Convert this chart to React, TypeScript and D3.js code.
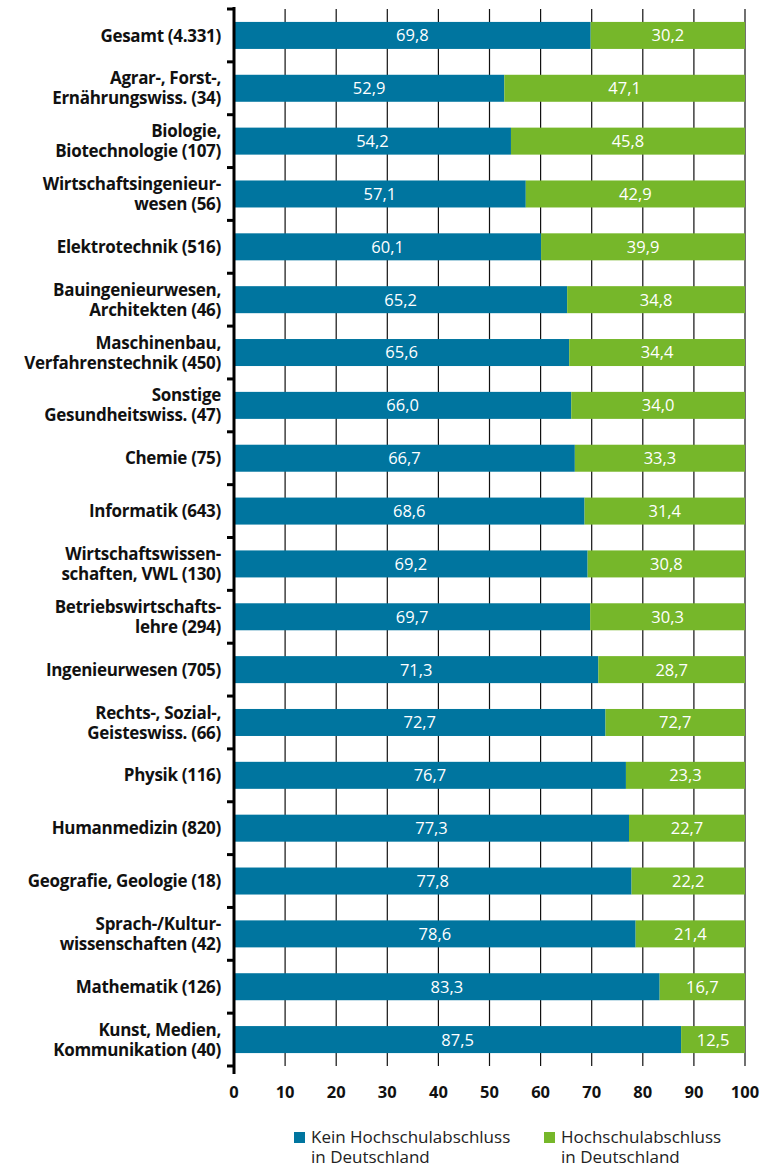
import React from "react";
import * as d3 from "d3";

const categories: string[][] = [
  ["Gesamt (4.331)"],
  ["Agrar-, Forst-,", "Ernährungswiss. (34)"],
  ["Biologie,", "Biotechnologie (107)"],
  ["Wirtschaftsingenieur-", "wesen (56)"],
  ["Elektrotechnik (516)"],
  ["Bauingenieurwesen,", "Architekten (46)"],
  ["Maschinenbau,", "Verfahrenstechnik (450)"],
  ["Sonstige", "Gesundheitswiss. (47)"],
  ["Chemie (75)"],
  ["Informatik (643)"],
  ["Wirtschaftswissen-", "schaften, VWL (130)"],
  ["Betriebswirtschafts-", "lehre (294)"],
  ["Ingenieurwesen (705)"],
  ["Rechts-, Sozial-,", "Geisteswiss. (66)"],
  ["Physik (116)"],
  ["Humanmedizin (820)"],
  ["Geografie, Geologie (18)"],
  ["Sprach-/Kultur-", "wissenschaften (42)"],
  ["Mathematik (126)"],
  ["Kunst, Medien,", "Kommunikation (40)"],
];

const keinValues = [69.8, 52.9, 54.2, 57.1, 60.1, 65.2, 65.6, 66.0, 66.7, 68.6, 69.2, 69.7, 71.3, 72.7, 76.7, 77.3, 77.8, 78.6, 83.3, 87.5];
const mitValues = [30.2, 47.1, 45.8, 42.9, 39.9, 34.8, 34.4, 34.0, 33.3, 31.4, 30.8, 30.3, 28.7, 27.3, 23.3, 22.7, 22.2, 21.4, 16.7, 12.5];
// labels as printed in the source (note the printed "72,7" in the green segment)
const keinLabels = ["69,8", "52,9", "54,2", "57,1", "60,1", "65,2", "65,6", "66,0", "66,7", "68,6", "69,2", "69,7", "71,3", "72,7", "76,7", "77,3", "77,8", "78,6", "83,3", "87,5"];
const mitLabels = ["30,2", "47,1", "45,8", "42,9", "39,9", "34,8", "34,4", "34,0", "33,3", "31,4", "30,8", "30,3", "28,7", "72,7", "23,3", "22,7", "22,2", "21,4", "16,7", "12,5"];
const xTicks = [0, 10, 20, 30, 40, 50, 60, 70, 80, 90, 100];
const legendItems = [
  { lines: ["Kein Hochschulabschluss", "in Deutschland"], color: "#00759f" },
  { lines: ["Hochschulabschluss", "in Deutschland"], color: "#76b72a" },
];

const BLUE = "#00759f";
const GREEN = "#76b72a";
const FONT = "'Open Sans', 'Noto Sans', sans-serif";

export default function App() {
  const W = 764, H = 1167;
  const left = 234, right = 745, top = 9, bottom = 1066;
  const x = d3.scaleLinear().domain([0, 100]).range([left, right]);
  const idx = categories.map((_, i) => String(i));
  const y = d3.scaleBand().domain(idx).range([top, bottom]).paddingInner(0.489).paddingOuter(0.2445);
  const step = y.step();
  const bh = y.bandwidth();

  return (
    <svg width={W} height={H} style={{ position: "absolute", left: 0, top: 0, fontFamily: FONT }}>
      {/* gridlines */}
      {xTicks.slice(1).map((t) => (
        <line key={"g" + t} x1={x(t)} x2={x(t)} y1={top} y2={bottom} stroke="#111" strokeWidth={1.2} />
      ))}
      {/* bars */}
      {categories.map((_, i) => {
        const yy = y(String(i))!;
        const k = keinValues[i];
        const m = mitValues[i];
        return (
          <g key={"b" + i}>
            <rect x={x(0)} y={yy} width={x(k) - x(0)} height={bh} fill={BLUE} />
            <rect x={x(k)} y={yy} width={x(k + m) - x(k)} height={bh} fill={GREEN} />
            <text x={(x(0) + x(k)) / 2} y={yy + bh / 2} dy="0.36em" textAnchor="middle" fill="#fff" fontSize={16.5}>
              {keinLabels[i]}
            </text>
            <text x={(x(k) + x(k + m)) / 2} y={yy + bh / 2} dy="0.36em" textAnchor="middle" fill="#fff" fontSize={16.5}>
              {mitLabels[i]}
            </text>
          </g>
        );
      })}
      {/* y axis */}
      <line x1={left} x2={left} y1={top - 2} y2={bottom + 8} stroke="#000" strokeWidth={3} />
      {d3.range(categories.length + 1).map((i) => (
        <line key={"t" + i} x1={left - 7} x2={left} y1={top + i * step} y2={top + i * step} stroke="#000" strokeWidth={3} />
      ))}
      {/* category labels */}
      {categories.map((lines, i) => {
        const cy = y(String(i))! + bh / 2;
        const lh = 20;
        const start = cy - ((lines.length - 1) * lh) / 2;
        return (
          <text key={"c" + i} x={221} textAnchor="end" fontWeight="bold" fontSize={17} fill="#111" letterSpacing={-0.3}>
            {lines.map((l, j) => (
              <tspan key={j} x={221} y={start + j * lh} dy="0.36em">
                {l}
              </tspan>
            ))}
          </text>
        );
      })}
      {/* x tick labels */}
      {xTicks.map((t) => (
        <text key={"x" + t} x={x(t)} y={1098} textAnchor="middle" fontWeight="bold" fontSize={16.5} fill="#111">
          {t}
        </text>
      ))}
      {/* legend */}
      {legendItems.map((it, i) => {
        const lx = i === 0 ? 294 : 544;
        return (
          <g key={"l" + i}>
            <rect x={lx} y={1132} width={11} height={11} fill={it.color} />
            {it.lines.map((l, j) => (
              <text key={j} x={lx + 17} y={1143 + j * 19.5} fontSize={17} fill="#222">
                {l}
              </text>
            ))}
          </g>
        );
      })}
    </svg>
  );
}
